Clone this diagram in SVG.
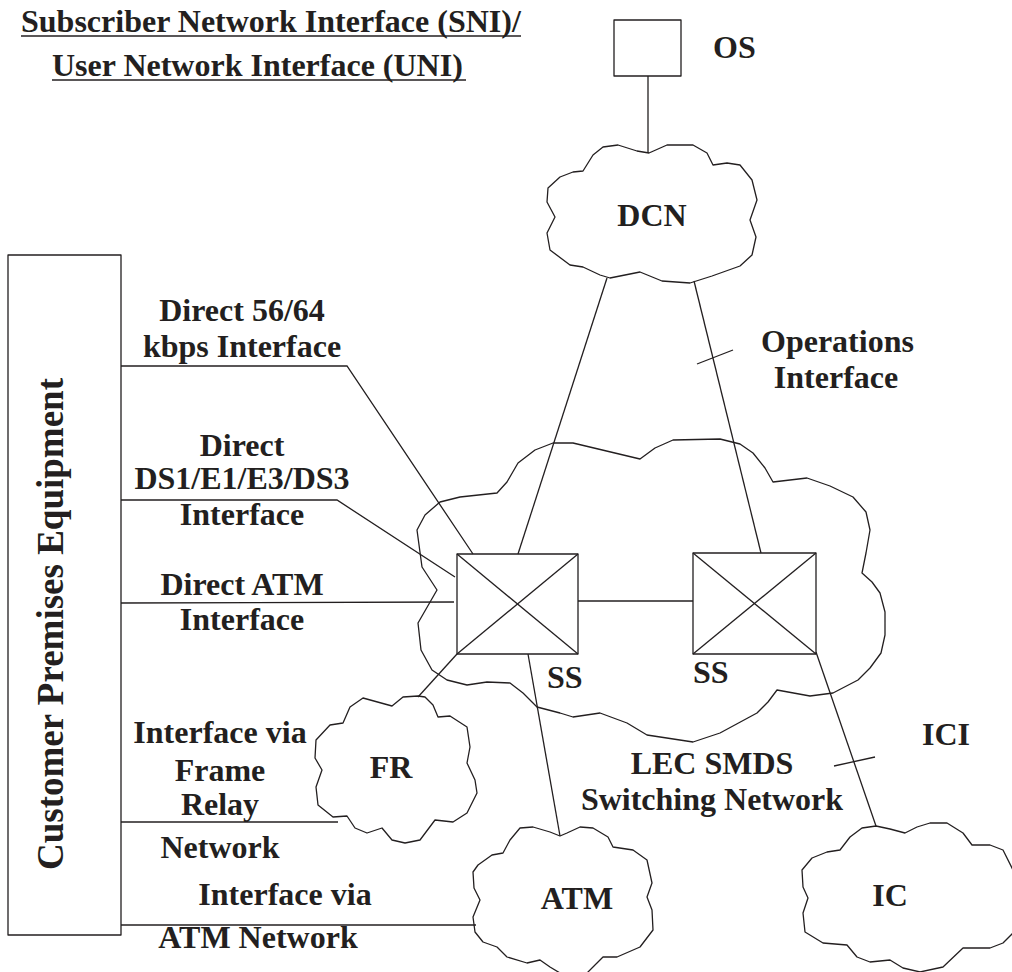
<svg xmlns="http://www.w3.org/2000/svg" width="1012" height="972" viewBox="0 0 1012 972">
<style>
.t{font-family:"Liberation Serif","Times New Roman",serif;font-weight:bold;font-size:32px;fill:#231f20}
.c{text-anchor:middle}
.ln{stroke:#231f20;stroke-width:1.3;fill:none}
.sh{stroke:#231f20;stroke-width:1.3;fill:none;stroke-linejoin:round}
</style>
<rect width="1012" height="972" fill="#fff"/>
<g id="title">
<text class="t" x="21" y="32">Subscriber Network Interface (SNI)/</text>
<line class="ln" x1="21" y1="36" x2="521" y2="36"/>
<text class="t" x="52" y="76">User Network Interface (UNI)</text>
<line class="ln" x1="52" y1="80" x2="466" y2="80"/>
</g>
<g id="connectors">
<line class="ln" x1="648" y1="76" x2="648" y2="153"/>
<line class="ln" x1="607" y1="278" x2="518" y2="554"/>
<line class="ln" x1="694" y1="281" x2="761" y2="553"/>
<line class="ln" x1="697" y1="364" x2="733" y2="350"/>
<line class="ln" x1="578" y1="601" x2="693" y2="601"/>
<polyline class="ln" points="121,366 347,366 473,554"/>
<polyline class="ln" points="121,500 337,500 455,577"/>
<line class="ln" x1="121" y1="603" x2="454" y2="602"/>
<line class="ln" x1="457" y1="654" x2="418" y2="697"/>
<line class="ln" x1="528" y1="654" x2="560" y2="836"/>
<line class="ln" x1="816" y1="652" x2="876" y2="826"/>
<line class="ln" x1="834" y1="766" x2="875" y2="757"/>
<line class="ln" x1="121" y1="822" x2="338" y2="822"/>
<line class="ln" x1="121" y1="925" x2="476" y2="925"/>
</g>
<g id="os">
<rect class="sh" x="614" y="20" width="67" height="56"/>
<text class="t" x="713" y="58">OS</text>
</g>
<g id="dcn">
<path class="sh" d="M649,153 L637,151 L618,145 L603,147 L593,155 L583,171 L573,172 L560,177 L548,188 L547,202 L555,217 L547,233 L550,250 L570,265 L583,267 L600,275 L610,278 L640,272 L662,281 L690,283 L712,276 L740,266 L752,255 L756,237 L750,220 L757,200 L752,180 L740,165 L727,163 L713,165 L707,153 L693,145 L667,145 L649,153 Z"/>
<text class="t c" x="652" y="226">DCN</text>
</g>
<g id="lec">
<path class="sh" d="M418,623 L437,590 L422,567 L417,530 L425,515 L440,502 L460,497 L497,493 L507,482 L518,463 L535,450 L553,443 L573,443 L640,459 L655,448 L673,440 L720,439 L740,444 L753,453 L765,468 L773,482 L807,478 L830,486 L853,497 L866,512 L870,530 L866,553 L862,573 L872,582 L880,593 L885,612 L885,635 L881,653 L870,668 L858,680 L833,693 L810,696 L777,690 L768,702 L757,713 L720,733 L693,742 L647,735 L627,723 L600,713 L573,717 L560,713 L537,707 L523,693 L510,683 L487,682 L467,685 L447,680 L432,670 L421,650 Z"/>
<text class="t c" x="712" y="774">LEC SMDS</text>
<text class="t c" x="712" y="810">Switching Network</text>
</g>
<g id="ss1">
<rect class="sh" x="457" y="554" width="121" height="100"/>
<line class="ln" x1="457" y1="554" x2="578" y2="654"/>
<line class="ln" x1="457" y1="654" x2="578" y2="554"/>
<text class="t" x="547" y="688">SS</text>
</g>
<g id="ss2">
<rect class="sh" x="693" y="553" width="123" height="101"/>
<line class="ln" x1="693" y1="553" x2="816" y2="654"/>
<line class="ln" x1="693" y1="654" x2="816" y2="553"/>
<text class="t" x="693" y="683">SS</text>
</g>
<g id="fr">
<path class="sh" d="M418,696 L403,697 L392,706 L363,698 L350,707 L343,723 L330,725 L316,740 L315,758 L322,770 L316,787 L318,805 L333,817 L347,816 L355,828 L367,833 L382,828 L392,840 L405,843 L420,840 L435,820 L453,822 L467,813 L477,793 L475,780 L467,763 L470,747 L467,727 L450,716 L438,717 L433,705 L425,697 Z"/>
<text class="t c" x="391" y="778">FR</text>
</g>
<g id="atm">
<path class="sh" d="M560,836 L550,832 L533,827 L520,828 L510,840 L503,853 L492,855 L478,865 L473,872 L474,888 L480,900 L473,917 L475,932 L483,942 L497,947 L507,957 L527,963 L540,960 L550,967 L560,973 L587,973 L603,957 L617,957 L640,947 L653,930 L652,910 L647,897 L652,883 L647,860 L633,850 L613,847 L608,837 L593,828 L580,827 L567,833 Z"/>
<text class="t c" x="577" y="909">ATM</text>
</g>
<g id="ic">
<path class="sh" d="M876,826 L862,828 L850,837 L840,850 L827,852 L812,858 L802,870 L803,887 L808,898 L803,913 L805,932 L823,943 L847,945 L857,957 L870,962 L890,960 L903,968 L920,972 L943,967 L963,948 L990,948 L1003,943 L1013,933 L1013,870 L1003,850 L990,845 L972,845 L963,833 L947,823 L930,823 L917,827 L905,833 L890,829 Z"/>
<text class="t c" x="890" y="906">IC</text>
</g>
<g id="cpe">
<rect class="sh" x="8" y="255" width="113" height="680"/>
<text class="t c" transform="translate(63,624) rotate(-90)" style="font-size:37px">Customer Premises Equipment</text>
</g>
<g id="labels">
<text class="t c" x="242" y="321">Direct 56/64</text>
<text class="t c" x="242" y="357">kbps Interface</text>
<text class="t c" x="242" y="456">Direct</text>
<text class="t c" x="242" y="489">DS1/E1/E3/DS3</text>
<text class="t c" x="242" y="525">Interface</text>
<text class="t c" x="242" y="595">Direct ATM</text>
<text class="t c" x="242" y="630">Interface</text>
<text class="t" x="761" y="352">Operations</text>
<text class="t c" x="836" y="388">Interface</text>
<text class="t" x="922" y="745">ICI</text>
<text class="t c" x="220" y="743">Interface via</text>
<text class="t c" x="220" y="781">Frame</text>
<text class="t c" x="220" y="815">Relay</text>
<text class="t c" x="220" y="858">Network</text>
<text class="t c" x="285" y="905">Interface via</text>
<text class="t c" x="258" y="948">ATM Network</text>
</g>
</svg>
